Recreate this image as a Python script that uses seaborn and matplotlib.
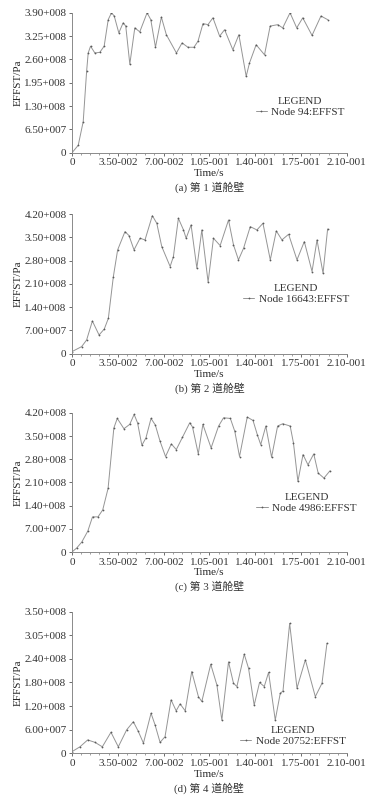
import matplotlib
matplotlib.use("Agg")
import matplotlib.pyplot as plt
import numpy as np
import pandas as pd
import seaborn as sns
from matplotlib.ticker import AutoMinorLocator

# 时间 (s) 与等效应力 (1e8 Pa)
a_t = [0, 0.0048, 0.0086, 0.0112, 0.0124, 0.0142, 0.0175, 0.0213, 0.0246, 0.0277,
       0.0302, 0.0323, 0.0358, 0.0391, 0.0411, 0.0442, 0.0480, 0.0518, 0.0574, 0.0602,
       0.0638, 0.0683, 0.0721, 0.0798, 0.0841, 0.0886, 0.0932, 0.0963, 0.1001, 0.1039,
       0.1077, 0.1128, 0.1166, 0.1229, 0.1275, 0.1331, 0.1356, 0.1407, 0.1471, 0.1514,
       0.1572, 0.1610, 0.1666, 0.1717, 0.1763, 0.1834, 0.1902, 0.1953]
a_v = [0, 0.21, 0.87, 2.27, 2.78, 2.97, 2.78, 2.80, 2.97, 3.71,
       3.90, 3.81, 3.34, 3.62, 3.53, 2.47, 3.48, 3.37, 3.90, 3.71,
       2.94, 3.78, 3.29, 2.78, 3.06, 2.94, 2.94, 3.11, 3.60, 3.57,
       3.76, 3.25, 3.43, 2.87, 3.29, 2.13, 2.50, 3.01, 2.73, 3.53,
       3.57, 3.48, 3.90, 3.48, 3.76, 3.27, 3.81, 3.71]

b_t = [0, 0.0074, 0.0112, 0.0156, 0.0207, 0.0247, 0.0278, 0.0316, 0.0349, 0.0405,
       0.0436, 0.0474, 0.0520, 0.0558, 0.0614, 0.0648, 0.0686, 0.0750, 0.0775, 0.0813,
       0.0852, 0.0872, 0.0910, 0.0954, 0.0992, 0.1040, 0.1081, 0.1132, 0.1196, 0.1234,
       0.1272, 0.1311, 0.1362, 0.1413, 0.1459, 0.1515, 0.1561, 0.1604, 0.1655, 0.1719,
       0.1775, 0.1834, 0.1872, 0.1918, 0.1953]
b_v = [0.06, 0.21, 0.41, 0.98, 0.56, 0.74, 1.06, 2.31, 3.12, 3.67,
       3.55, 3.12, 3.47, 3.42, 4.15, 3.92, 3.22, 2.62, 2.92, 4.07,
       3.72, 3.47, 3.87, 2.57, 3.72, 2.15, 3.47, 3.25, 4.02, 3.27,
       2.82, 3.17, 3.82, 3.72, 3.92, 2.82, 3.69, 3.42, 3.59, 2.82,
       3.37, 2.47, 3.42, 2.42, 3.75]

c_t = [0, 0.0036, 0.0075, 0.0121, 0.0157, 0.0199, 0.0235, 0.0276, 0.0320, 0.0346,
       0.0397, 0.0441, 0.0475, 0.0501, 0.0534, 0.0565, 0.0604, 0.0637, 0.0673, 0.0715,
       0.0759, 0.0797, 0.0844, 0.0900, 0.0921, 0.0965, 0.1000, 0.1063, 0.1120, 0.1158,
       0.1210, 0.1244, 0.1280, 0.1339, 0.1383, 0.1416, 0.1442, 0.1481, 0.1525, 0.1571,
       0.1610, 0.1667, 0.1692, 0.1726, 0.1765, 0.1803, 0.1847, 0.1881, 0.1925, 0.1971]
c_v = [0, 0.12, 0.30, 0.63, 1.06, 1.06, 1.27, 1.92, 3.74, 4.03,
       3.72, 3.85, 4.15, 3.90, 3.22, 3.44, 4.03, 3.83, 3.34, 2.88,
       3.26, 3.09, 3.46, 3.90, 3.77, 2.96, 3.85, 3.14, 3.80, 4.05,
       4.03, 3.64, 2.88, 4.07, 3.97, 3.54, 3.24, 3.80, 2.86, 3.80,
       3.87, 3.80, 3.29, 2.13, 2.94, 2.63, 2.96, 2.38, 2.23, 2.45]

d_t = [0, 0.0061, 0.0120, 0.0176, 0.0232, 0.0298, 0.0354, 0.0418, 0.0469, 0.0507,
       0.0546, 0.0604, 0.0635, 0.0673, 0.0711, 0.0757, 0.0796, 0.0826, 0.0865, 0.0915,
       0.0966, 0.0992, 0.1060, 0.1107, 0.1145, 0.1196, 0.1234, 0.1260, 0.1316, 0.1349,
       0.1392, 0.1433, 0.1469, 0.1502, 0.1553, 0.1591, 0.1612, 0.1663, 0.1719, 0.1783,
       0.1859, 0.1910, 0.1948]
d_v = [0.04, 0.16, 0.33, 0.27, 0.16, 0.52, 0.16, 0.58, 0.78, 0.54,
       0.25, 0.99, 0.70, 0.27, 0.41, 1.32, 1.05, 1.22, 1.05, 2.02,
       1.40, 1.28, 2.20, 1.69, 0.82, 2.26, 1.73, 1.65, 2.45, 2.10,
       1.19, 1.75, 1.65, 2.00, 0.82, 1.48, 1.54, 3.21, 1.61, 2.31,
       1.40, 1.73, 2.72]

x_labels = ['0', '3.50-002', '7.00-002', '1.05-001', '1.40-001', '1.75-001', '2.10-001']
a_ylabels = ['0', '6.50+007', '1.30+008', '1.95+008', '2.60+008', '3.25+008', '3.90+008']
b_ylabels = ['0', '7.00+007', '1.40+008', '2.10+008', '2.80+008', '3.50+008', '4.20+008']
c_ylabels = ['0', '7.00+007', '1.40+008', '2.10+008', '2.80+008', '3.50+008', '4.20+008']
d_ylabels = ['0', '6.00+007', '1.20+008', '1.80+008', '2.40+008', '3.05+008', '3.50+008']

nodes = ['Node 94:EFFST', 'Node 16643:EFFST', 'Node 4986:EFFST', 'Node 20752:EFFST']
captions = ['(a) 第 1 道舱壁', '(b) 第 2 道舱壁', '(c) 第 3 道舱壁', '(d) 第 4 道舱壁']
y_max = [3.9e8, 4.2e8, 4.2e8, 3.5e8]

sns.set_style("ticks")
plt.rcParams['font.family'] = ['Liberation Serif', 'Noto Sans CJK SC', 'DejaVu Sans']
plt.rcParams['text.color'] = '#333333'
plt.rcParams['xtick.color'] = '#555555'
plt.rcParams['ytick.color'] = '#555555'
plt.rcParams['xtick.labelcolor'] = '#333333'
plt.rcParams['ytick.labelcolor'] = '#333333'

fig = plt.figure(figsize=(3.69, 8.0), dpi=100)

# 每个子图的位置 [left, bottom, width, height]
boxes = [[0.195, 0.809, 0.745, 0.175],
         [0.195, 0.558, 0.745, 0.1745],
         [0.195, 0.310, 0.745, 0.174],
         [0.195, 0.0584, 0.745, 0.177]]
leg_pos = [(0.83, 0.33), (0.816, 0.425), (0.853, 0.355), (0.804, 0.125)]

series = [(a_t, a_v, a_ylabels), (b_t, b_v, b_ylabels), (c_t, c_v, c_ylabels), (d_t, d_v, d_ylabels)]

for i, (t, v, ylabs) in enumerate(series):
    ax = fig.add_axes(boxes[i])
    df = pd.DataFrame({'t': t, 'v': np.array(v) * 1e8})
    sns.lineplot(data=df, x='t', y='v', ax=ax, color='#959595', linewidth=0.7,
                 marker='o', markersize=1.3, markeredgewidth=0,
                 markerfacecolor='#5a5a5a', label=nodes[i])
    ax.lines[0].set_solid_joinstyle('round')
    ax.set_xlim(0, 0.21)
    ax.set_ylim(0, y_max[i])
    ax.set_xticks(np.linspace(0, 0.21, 7))
    ax.set_xticklabels(x_labels, fontsize=8)
    ax.set_yticks(np.linspace(0, y_max[i], 7))
    ax.set_yticklabels(ylabs, fontsize=8)
    ax.xaxis.set_minor_locator(AutoMinorLocator(5))
    ax.tick_params(axis='both', which='major', length=2.5, width=0.6, pad=1.5)
    ax.tick_params(axis='x', which='minor', length=1.2, width=0.4)
    sns.despine(ax=ax)
    for s in ['left', 'bottom']:
        ax.spines[s].set_color('#8a8a8a')
        ax.spines[s].set_linewidth(0.7)
    ax.set_xlabel('Time/s', fontsize=8, labelpad=1.2)
    ax.set_ylabel('EFFST/Pa', fontsize=8, labelpad=1)
    ax.legend(title='LEGEND', frameon=False, loc='center',
              bbox_to_anchor=leg_pos[i], fontsize=8, title_fontsize=8,
              handlelength=1.0, handletextpad=0.4, labelspacing=0.1,
              borderpad=0, borderaxespad=0)
    ax.text(0.5, -0.245, captions[i], transform=ax.transAxes, ha='center',
            va='center', fontsize=7.8)

fig.savefig('out.png', dpi=100, facecolor='white')
